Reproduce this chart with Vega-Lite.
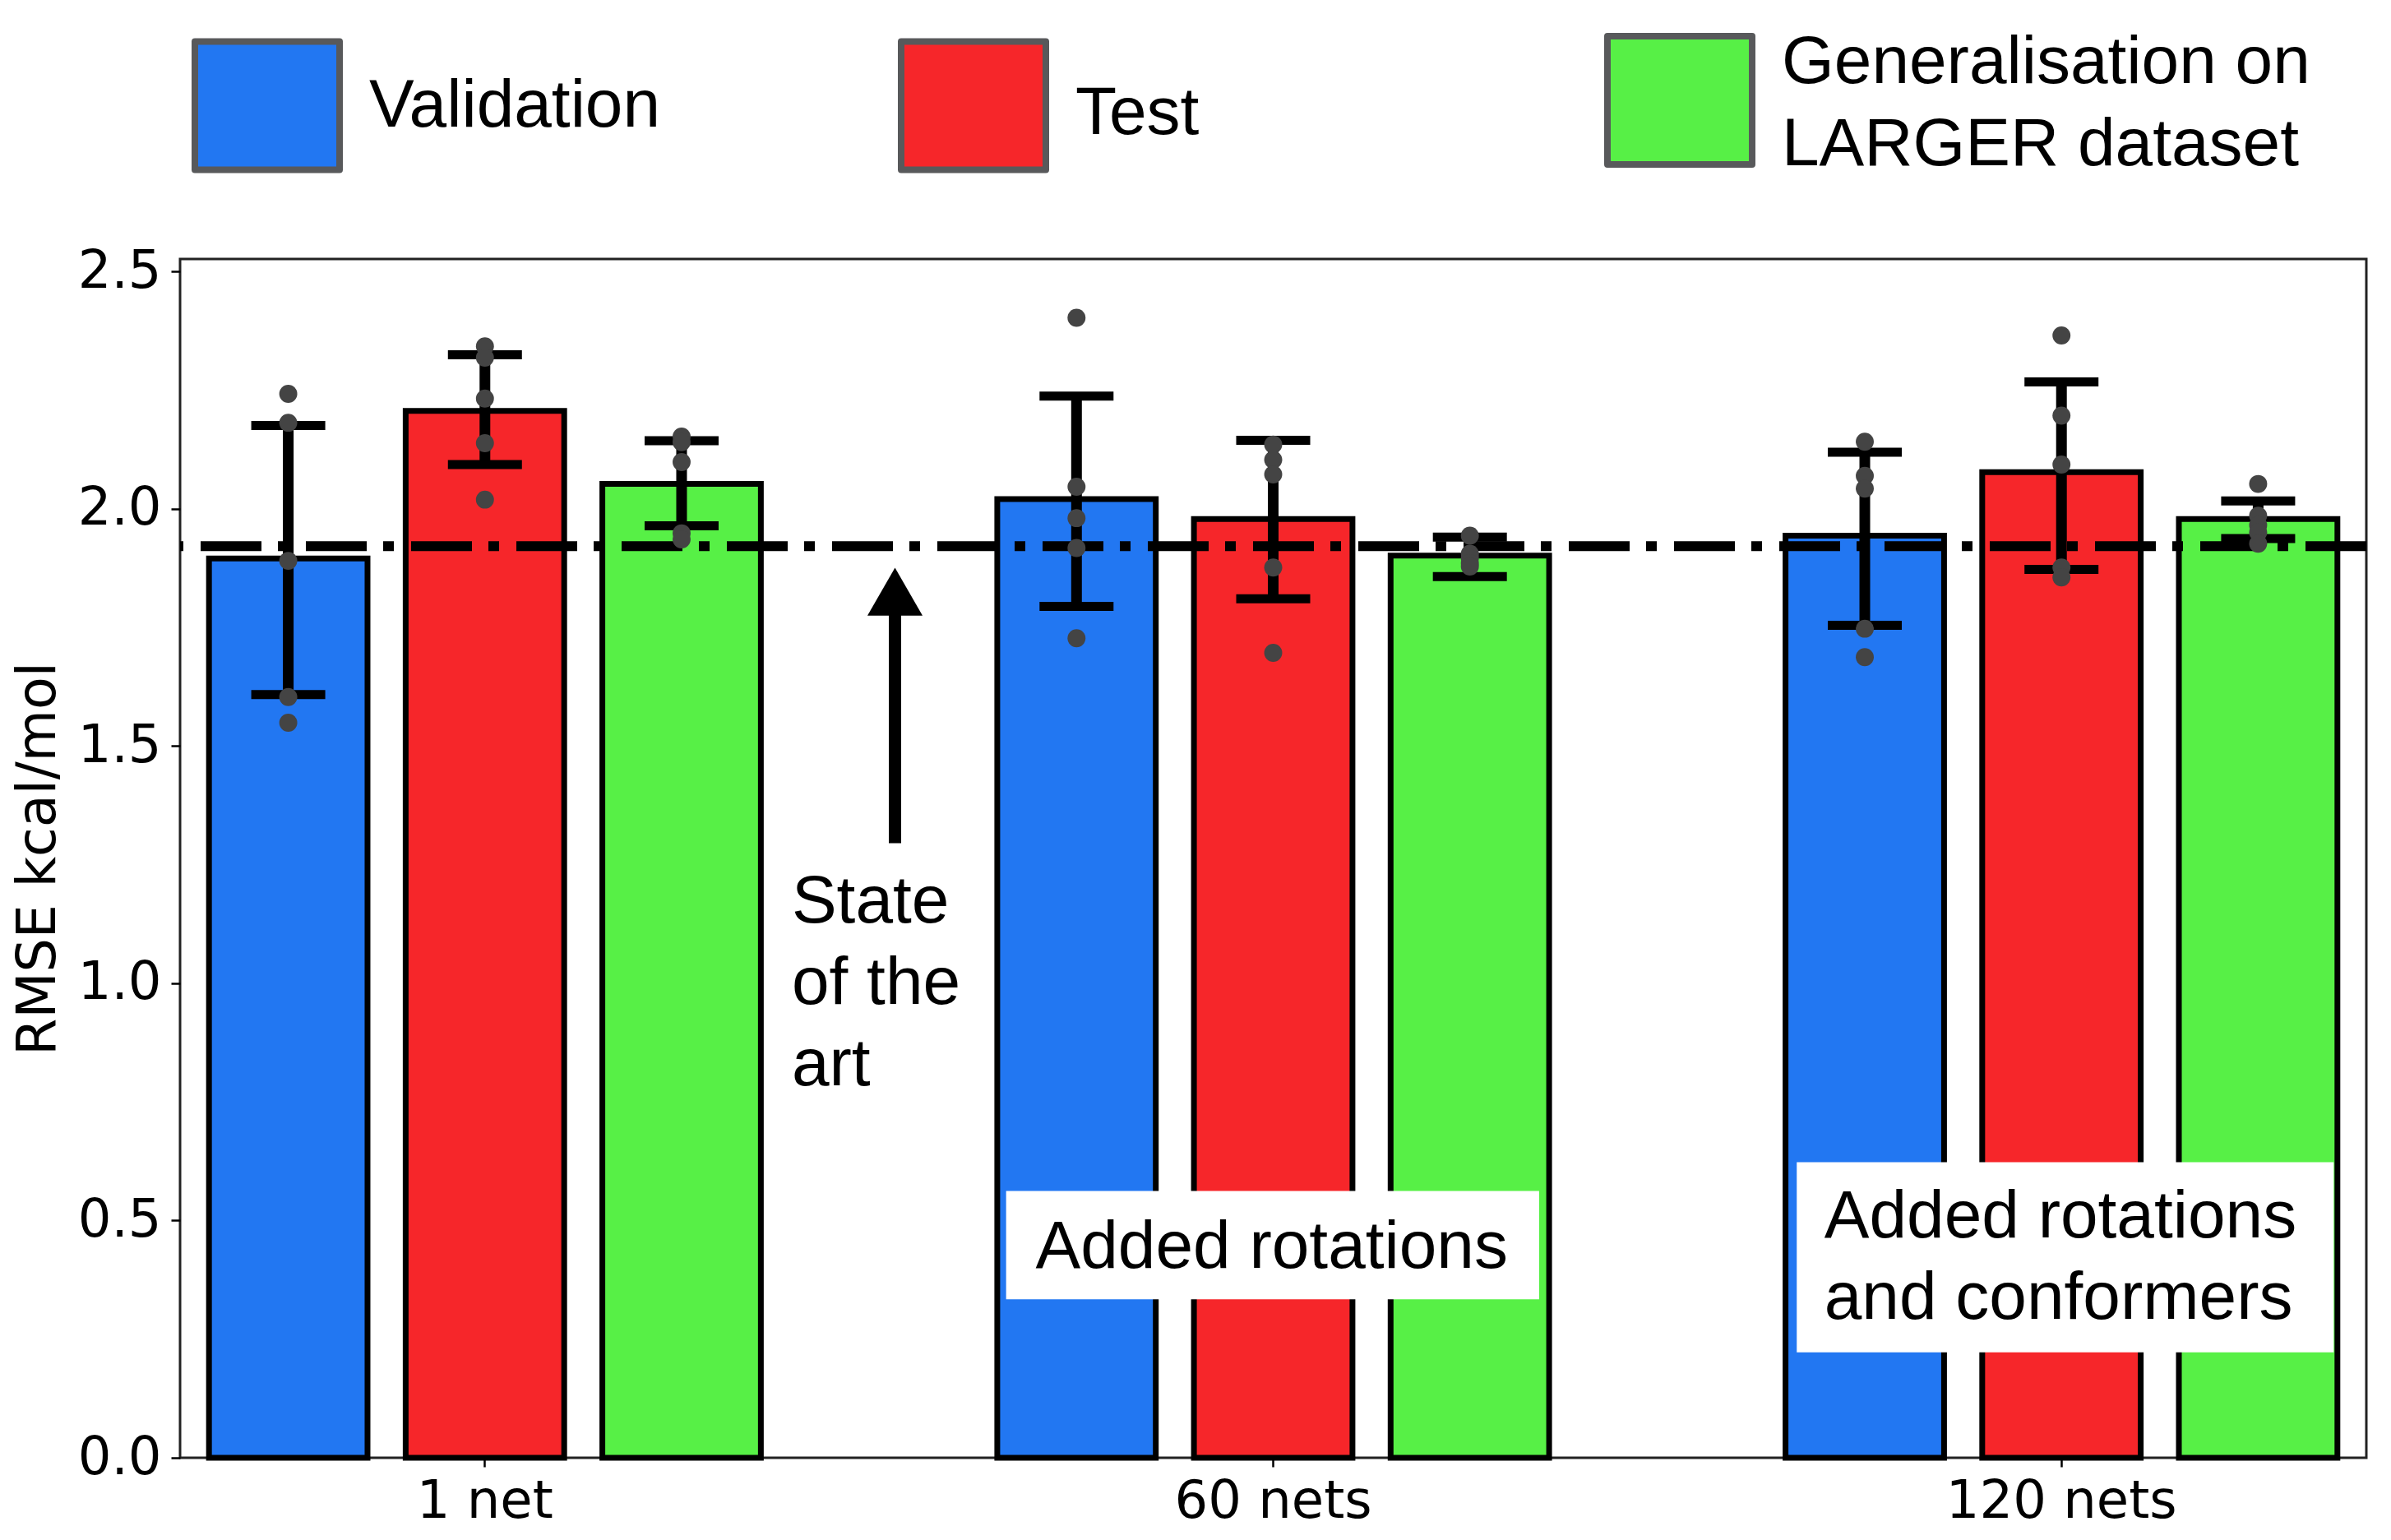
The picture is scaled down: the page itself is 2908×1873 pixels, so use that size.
{
  "$schema": "https://vega.github.io/schema/vega-lite/v6.json",
  "description": "RMSE per model size, validation / test / generalisation",
  "width": 2659,
  "height": 1458,
  "autosize": {"type": "none"},
  "padding": {"left": 219, "top": 315, "right": 30, "bottom": 100},
  "background": "white",
  "datasets": {
    "bars": [
      {"model": "1 net", "split": "Validation", "rmse": 1.895, "lo": 1.608, "hi": 2.175},
      {"model": "1 net", "split": "Test", "rmse": 2.206, "lo": 2.093, "hi": 2.324},
      {"model": "1 net", "split": "Generalisation on LARGER dataset", "rmse": 2.052, "lo": 1.964, "hi": 2.143},
      {"model": "60 nets", "split": "Validation", "rmse": 2.02, "lo": 1.794, "hi": 2.237},
      {"model": "60 nets", "split": "Test", "rmse": 1.978, "lo": 1.81, "hi": 2.144},
      {"model": "60 nets", "split": "Generalisation on LARGER dataset", "rmse": 1.901, "lo": 1.857, "hi": 1.94},
      {"model": "120 nets", "split": "Validation", "rmse": 1.943, "lo": 1.754, "hi": 2.119},
      {"model": "120 nets", "split": "Test", "rmse": 2.077, "lo": 1.872, "hi": 2.267},
      {"model": "120 nets", "split": "Generalisation on LARGER dataset", "rmse": 1.978, "lo": 1.937, "hi": 2.016}
    ],
    "runs": [
      {"model": "1 net", "split": "Validation", "rmse": 2.242},
      {"model": "1 net", "split": "Validation", "rmse": 2.181},
      {"model": "1 net", "split": "Validation", "rmse": 1.89},
      {"model": "1 net", "split": "Validation", "rmse": 1.603},
      {"model": "1 net", "split": "Validation", "rmse": 1.549},
      {"model": "1 net", "split": "Test", "rmse": 2.342},
      {"model": "1 net", "split": "Test", "rmse": 2.318},
      {"model": "1 net", "split": "Test", "rmse": 2.232},
      {"model": "1 net", "split": "Test", "rmse": 2.138},
      {"model": "1 net", "split": "Test", "rmse": 2.019},
      {"model": "1 net", "split": "Generalisation on LARGER dataset", "rmse": 2.152},
      {"model": "1 net", "split": "Generalisation on LARGER dataset", "rmse": 2.14},
      {"model": "1 net", "split": "Generalisation on LARGER dataset", "rmse": 2.098},
      {"model": "1 net", "split": "Generalisation on LARGER dataset", "rmse": 1.948},
      {"model": "1 net", "split": "Generalisation on LARGER dataset", "rmse": 1.935},
      {"model": "60 nets", "split": "Validation", "rmse": 2.402},
      {"model": "60 nets", "split": "Validation", "rmse": 2.046},
      {"model": "60 nets", "split": "Validation", "rmse": 1.98},
      {"model": "60 nets", "split": "Validation", "rmse": 1.917},
      {"model": "60 nets", "split": "Validation", "rmse": 1.727},
      {"model": "60 nets", "split": "Test", "rmse": 2.135},
      {"model": "60 nets", "split": "Test", "rmse": 2.103},
      {"model": "60 nets", "split": "Test", "rmse": 2.072},
      {"model": "60 nets", "split": "Test", "rmse": 1.876},
      {"model": "60 nets", "split": "Test", "rmse": 1.696},
      {"model": "60 nets", "split": "Generalisation on LARGER dataset", "rmse": 1.943},
      {"model": "60 nets", "split": "Generalisation on LARGER dataset", "rmse": 1.905},
      {"model": "60 nets", "split": "Generalisation on LARGER dataset", "rmse": 1.896},
      {"model": "60 nets", "split": "Generalisation on LARGER dataset", "rmse": 1.885},
      {"model": "60 nets", "split": "Generalisation on LARGER dataset", "rmse": 1.878},
      {"model": "120 nets", "split": "Validation", "rmse": 2.141},
      {"model": "120 nets", "split": "Validation", "rmse": 2.069},
      {"model": "120 nets", "split": "Validation", "rmse": 2.042},
      {"model": "120 nets", "split": "Validation", "rmse": 1.747},
      {"model": "120 nets", "split": "Validation", "rmse": 1.687},
      {"model": "120 nets", "split": "Test", "rmse": 2.365},
      {"model": "120 nets", "split": "Test", "rmse": 2.196},
      {"model": "120 nets", "split": "Test", "rmse": 2.093},
      {"model": "120 nets", "split": "Test", "rmse": 1.876},
      {"model": "120 nets", "split": "Test", "rmse": 1.855},
      {"model": "120 nets", "split": "Generalisation on LARGER dataset", "rmse": 2.052},
      {"model": "120 nets", "split": "Generalisation on LARGER dataset", "rmse": 1.985},
      {"model": "120 nets", "split": "Generalisation on LARGER dataset", "rmse": 1.965},
      {"model": "120 nets", "split": "Generalisation on LARGER dataset", "rmse": 1.95},
      {"model": "120 nets", "split": "Generalisation on LARGER dataset", "rmse": 1.926}
    ],
    "sota": [{"label": "State of the art", "rmse": 1.921}],
    "boxes": [
      {"u0": 2.65, "u1": 5.36, "top": 0.562, "bottom": 0.334},
      {"u0": 6.67, "u1": 9.4, "top": 0.623, "bottom": 0.222}
    ],
    "notes": [
      {"u": 1.56, "y": 1.171, "text": "State\nof the\nart"},
      {"u": 2.8, "y": 0.443, "text": "Added rotations"},
      {"u": 6.81, "y": 0.508, "text": "Added rotations\nand conformers"}
    ],
    "arrow": [{"u": 2.085, "tail": 1.295, "neck": 1.79, "head": 1.825}]
  },
  "layer": [
    {
      "layer": [
        {
          "data": {"name": "bars"},
          "mark": {"type": "bar", "stroke": "black", "strokeWidth": 7, "opacity": 1},
          "encoding": {
            "x": {
              "field": "model", "type": "nominal", "title": null,
              "sort": ["1 net", "60 nets", "120 nets"],
              "scale": {"paddingInner": 0.2515, "paddingOuter": 0.0125},
              "axis": {"labelAngle": 0, "labelLimit": 800, "domain": false, "tickSize": 11, "tickWidth": 2.5, "tickColor": "black", "labelPadding": 10}
            },
            "xOffset": {
              "field": "split", "type": "nominal",
              "sort": ["Validation", "Test", "Generalisation on LARGER dataset"],
              "scale": {"paddingInner": 0.194, "paddingOuter": 0.097}
            },
            "y": {
              "field": "rmse", "type": "quantitative", "title": "RMSE kcal/mol",
              "scale": {"domain": [0, 2.526], "nice": false},
              "axis": {"values": [0, 0.5, 1, 1.5, 2, 2.5], "format": ".1f", "domain": false, "grid": false, "tickSize": 11, "tickWidth": 2.5, "tickColor": "black", "labelPadding": 12, "titlePadding": 14}
            },
            "color": {
              "field": "split", "type": "nominal",
              "sort": ["Validation", "Test", "Generalisation on LARGER dataset"],
              "scale": {
                "domain": ["Validation", "Test", "Generalisation on LARGER dataset"],
                "range": ["#2277f2", "#f6262a", "#57f046"]
              },
              "legend": {
                "title": null, "orient": "none", "legendX": 14, "legendY": -285,
                "direction": "horizontal", "columns": 3, "gridAlign": "all", "columnPadding": -9,
                "padding": 0,
                "symbolType": "M-1,-0.886L1,-0.886L1,0.886L-1,0.886Z",
                "symbolSize": 30976,
                "symbolStrokeColor": "#58595b", "symbolStrokeWidth": 8, "symbolOpacity": 1,
                "labelFont": "Liberation Sans", "labelFontSize": 82, "labelColor": "black",
                "labelOffset": 32, "labelLimit": 1200,
                "labelExpr": "datum.label == 'Generalisation on LARGER dataset' ? ['Generalisation on', 'LARGER dataset'] : datum.label",
                "encode": {
                  "symbols": {"update": {"strokeJoin": {"value": "round"}}},
                  "labels": {"update": {"dy": {"signal": "datum.value == 'Generalisation on LARGER dataset' ? -46 : (datum.value == 'Test' ? 9 : 0)"}}}
                }
              }
            }
          }
        },
        {
          "data": {"name": "sota"},
          "mark": {"type": "rule", "color": "black", "strokeWidth": 12, "strokeDash": [74, 21, 13, 20]},
          "encoding": {"y": {"field": "rmse", "type": "quantitative", "title": "RMSE kcal/mol"}}
        },
        {
          "data": {"name": "bars"},
          "mark": {"type": "rule", "color": "black", "strokeWidth": 13},
          "encoding": {
            "x": {"field": "model", "type": "nominal", "sort": ["1 net", "60 nets", "120 nets"]},
            "xOffset": {"field": "split", "type": "nominal", "sort": ["Validation", "Test", "Generalisation on LARGER dataset"]},
            "y": {"field": "lo", "type": "quantitative", "title": "RMSE kcal/mol"},
            "y2": {"field": "hi"}
          }
        },
        {
          "data": {"name": "bars"},
          "mark": {"type": "tick", "color": "black", "size": 90, "thickness": 11, "opacity": 1},
          "encoding": {
            "x": {"field": "model", "type": "nominal", "sort": ["1 net", "60 nets", "120 nets"]},
            "xOffset": {"field": "split", "type": "nominal", "sort": ["Validation", "Test", "Generalisation on LARGER dataset"]},
            "y": {"field": "lo", "type": "quantitative", "title": "RMSE kcal/mol"}
          }
        },
        {
          "data": {"name": "bars"},
          "mark": {"type": "tick", "color": "black", "size": 90, "thickness": 11, "opacity": 1},
          "encoding": {
            "x": {"field": "model", "type": "nominal", "sort": ["1 net", "60 nets", "120 nets"]},
            "xOffset": {"field": "split", "type": "nominal", "sort": ["Validation", "Test", "Generalisation on LARGER dataset"]},
            "y": {"field": "hi", "type": "quantitative", "title": "RMSE kcal/mol"}
          }
        },
        {
          "data": {"name": "runs"},
          "mark": {"type": "circle", "color": "#444444", "opacity": 1, "size": 480},
          "encoding": {
            "x": {"field": "model", "type": "nominal", "sort": ["1 net", "60 nets", "120 nets"]},
            "xOffset": {"field": "split", "type": "nominal", "sort": ["Validation", "Test", "Generalisation on LARGER dataset"]},
            "y": {"field": "rmse", "type": "quantitative", "title": "RMSE kcal/mol"}
          }
        }
      ]
    },
    {
      "layer": [
        {
          "data": {"name": "boxes"},
          "mark": {"type": "rect", "fill": "white", "stroke": null},
          "encoding": {
            "x": {"field": "u0", "type": "quantitative", "scale": {"domain": [-1.55, 9.566], "nice": false, "zero": false}, "axis": null},
            "x2": {"field": "u1"},
            "y": {"field": "top", "type": "quantitative", "title": "RMSE kcal/mol"},
            "y2": {"field": "bottom"}
          }
        },
        {
          "data": {"name": "notes"},
          "mark": {"type": "text", "font": "Liberation Sans", "fontSize": 82, "align": "left", "baseline": "middle", "lineBreak": "\n", "lineHeight": 99, "color": "black"},
          "encoding": {
            "x": {"field": "u", "type": "quantitative", "axis": null},
            "y": {"field": "y", "type": "quantitative", "title": "RMSE kcal/mol"},
            "text": {"field": "text"}
          }
        },
        {
          "data": {"name": "arrow"},
          "mark": {"type": "rule", "color": "black", "strokeWidth": 15},
          "encoding": {
            "x": {"field": "u", "type": "quantitative", "axis": null},
            "y": {"field": "tail", "type": "quantitative", "title": "RMSE kcal/mol"},
            "y2": {"field": "neck"}
          }
        },
        {
          "data": {"name": "arrow"},
          "mark": {"type": "point", "shape": "triangle-up", "filled": true, "color": "black", "opacity": 1, "size": 4489},
          "encoding": {
            "x": {"field": "u", "type": "quantitative", "axis": null},
            "y": {"field": "head", "type": "quantitative", "title": "RMSE kcal/mol"}
          }
        }
      ]
    }
  ],
  "resolve": {"scale": {"x": "independent"}},
  "config": {
    "view": {"stroke": "#222222", "strokeWidth": 3},
    "axis": {
      "labelFont": "DejaVu Sans", "labelFontSize": 64, "labelColor": "black",
      "titleFont": "DejaVu Sans", "titleFontSize": 65, "titleFontWeight": "normal", "titleColor": "black"
    },
    "style": {"guide-label": {"lineHeight": 100}}
  }
}
